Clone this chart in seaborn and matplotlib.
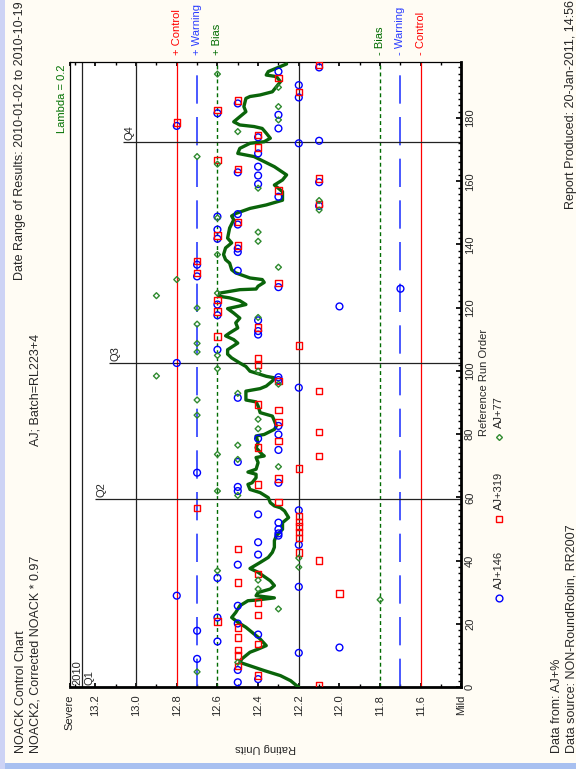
import numpy as np
import pandas as pd
import matplotlib.pyplot as plt
from matplotlib.lines import Line2D
from matplotlib.patches import Rectangle
from matplotlib.ticker import MultipleLocator
import seaborn as sns

# --- values (run order, rating units) ---
aj146_run = [1.5, 2.5, 5.4, 8.9, 10.8, 12.5, 14.4, 16.6, 17.8, 20.1, 22.0, 25.7, 28.9, 31.7,
             34.5, 38.7, 41.9, 45.0, 45.8, 47.9, 48.6, 49.9, 52.0, 54.6, 55.9, 62.0, 63.3,
             64.6, 67.8, 71.2, 75.0, 78.6, 79.9, 82.6, 91.5, 94.7, 97.1, 98.0, 102.5, 106.7,
             111.5, 112.6, 116.0, 117.6, 120.4, 121.0, 126.0, 126.5, 129.9, 131.7, 133.6,
             137.6, 138.7, 141.8, 144.7, 146.3, 148.8, 149.6, 152.2, 155.1, 159.1, 159.7,
             161.8, 162.8, 164.6, 168.8, 172.0, 172.8, 173.9, 176.7, 177.5, 181.0, 181.5,
             184.6, 186.5, 190.4, 194.7, 196.0]
aj146_val = [12.5, 12.4, 12.5, 12.7, 12.2, 12.0, 12.6, 12.4, 12.7, 12.5, 12.6, 12.5, 12.8, 12.2,
             12.6, 12.5, 12.4, 12.2, 12.4, 12.3, 12.3, 12.3, 12.3, 12.4, 12.2, 12.5, 12.5,
             12.3, 12.7, 12.5, 12.3, 12.4, 12.3, 12.3, 12.5, 12.2, 12.3, 12.3, 12.8, 12.6,
             12.4, 12.4, 12.4, 12.6, 12.0, 12.6, 11.7, 12.3, 12.7, 12.5, 12.7,
             12.5, 12.5, 12.6, 12.6, 12.5, 12.6, 12.5, 12.1, 12.3, 12.4, 12.1,
             12.4, 12.5, 12.4, 12.4, 12.2, 12.1, 12.4, 12.3, 12.8, 12.3, 12.6,
             12.5, 12.2, 12.2, 12.3, 12.1]

aj319_run = [0.7, 3.6, 6.7, 9.9, 11.7, 13.6, 15.7, 18.9, 20.8, 22.8, 26.8, 29.6, 33.1, 35.7,
             40.0, 42.6, 43.7, 47.1, 49.0, 50.7, 52.2, 54.1, 56.7, 58.5, 64.1, 65.9, 69.1,
             73.1, 75.7, 77.8, 80.7, 83.8, 87.6, 89.4, 93.6, 96.8, 102.0, 103.9, 108.0,
             110.9, 113.8, 118.8, 122.5, 127.8, 131.0, 134.7, 139.7, 142.9, 147.1, 152.8,
             157.0, 160.9, 163.8, 166.7, 170.7, 174.6, 178.5, 182.5, 185.5, 188.3, 192.6,
             196.8]
aj319_val = [12.1, 12.4, 12.5, 12.5, 12.5, 12.4, 12.5, 12.5, 12.6, 12.4, 12.4, 12.0, 12.5, 12.4,
             12.1, 12.2, 12.5, 12.2, 12.2, 12.2, 12.2, 12.2, 12.7, 12.3, 12.4, 12.3, 12.2,
             12.1, 12.4, 12.3, 12.1, 12.3, 12.3, 12.4, 12.1, 12.3, 12.4, 12.4, 12.2,
             12.6, 12.4, 12.6, 12.6, 12.3, 12.7, 12.7, 12.5, 12.6, 12.5, 12.1,
             12.3, 12.1, 12.5, 12.6, 12.4, 12.4, 12.8, 12.6, 12.5, 12.2, 12.3,
             12.1]

aj77_run = [4.8, 7.8, 24.7, 27.6, 31.0, 33.8, 36.8, 37.9, 40.8, 60.6, 62.0, 69.7, 72.0, 73.6,
            76.5, 81.7, 84.7, 86.0, 90.8, 92.9, 95.8, 98.4, 99.9, 100.7, 104.9, 106.0, 108.7,
            114.8, 116.9, 119.9, 123.8, 124.6, 128.9, 132.8, 136.8, 141.0, 143.9, 148.4,
            150.9, 153.9, 157.8, 165.4, 167.8, 175.7, 179.4, 183.6, 189.7, 193.9]
aj77_val = [12.7, 12.5, 12.3, 11.8, 12.4, 12.4, 12.6, 12.2, 12.2, 12.5, 12.6, 12.3, 12.5, 12.6,
            12.5, 12.4, 12.4, 12.7, 12.7, 12.5, 12.3, 12.9, 12.4, 12.6, 12.6, 12.7, 12.7,
            12.7, 12.4, 12.7, 12.9, 12.6, 12.8, 12.3, 12.6, 12.4, 12.4, 12.6,
            12.1, 12.1, 12.4, 12.6, 12.7, 12.5, 12.3, 12.3, 12.3, 12.6]

# EWMA trace (lambda = 0.2)
ewma_run = [0.0, 0.4, 2.0, 3.6, 5.2, 6.7, 7.8, 8.9, 11.0, 12.0, 13.1, 15.2, 17.3, 18.9, 20.5,
            22.0, 23.6, 25.7, 27.3, 27.5, 28.2, 28.9, 29.9, 31.0, 32.1, 33.6, 36.3, 37.5,
            39.4, 41.0, 42.6, 44.2, 46.3, 47.9, 49.9, 52.0, 53.6, 55.7, 56.7, 57.3, 58.3,
            59.9, 61.5, 62.5, 64.1, 64.6, 66.2, 67.3, 68.0, 68.9, 71.0, 72.6, 73.1, 73.6,
            75.7, 77.3, 79.4, 79.9, 81.5, 82.6, 84.2, 85.7, 86.8, 88.9, 90.2, 90.8, 92.1,
            93.6, 94.4, 95.2, 96.8, 97.8, 98.3, 99.9, 101.4, 102.5, 104.1, 105.3, 106.7,
            108.8, 109.9, 111.1, 112.0, 113.6, 115.2, 116.7, 118.3, 119.7, 120.4, 121.0,
            122.2, 123.1, 123.6, 124.6, 125.7, 125.9, 126.8, 128.0, 128.9, 129.4, 131.0,
            132.0, 134.1, 135.2, 136.8, 138.9, 140.5, 142.0, 145.2, 147.8, 149.0, 149.8,
            151.4, 152.5, 154.0, 156.7, 158.8, 160.4, 162.0, 164.6, 166.2, 167.8, 168.3,
            168.8, 170.4, 172.0, 172.5, 173.6, 175.2, 176.7, 177.3, 177.8, 178.8, 180.4,
            182.0, 183.6, 186.2, 186.8, 187.3, 188.3, 189.9, 191.5, 193.1, 193.6, 194.7,
            197.1]
ewma_val = [12.20, 12.21, 12.24, 12.29, 12.37, 12.44, 12.49, 12.48, 12.44, 12.40, 12.36, 12.39,
            12.43, 12.46, 12.50, 12.53, 12.51, 12.49, 12.45, 12.41, 12.32, 12.41, 12.40,
            12.34, 12.32, 12.34, 12.40, 12.44, 12.39, 12.35, 12.33, 12.32, 12.32, 12.31,
            12.28, 12.28, 12.25, 12.27, 12.29, 12.32, 12.34, 12.35, 12.39, 12.44, 12.45,
            12.43, 12.41, 12.41, 12.45, 12.41, 12.40, 12.41, 12.37, 12.38, 12.41, 12.40,
            12.41, 12.37, 12.32, 12.31, 12.32, 12.33, 12.39, 12.40, 12.41, 12.46, 12.46,
            12.46, 12.39, 12.36, 12.33, 12.32, 12.36, 12.44, 12.46, 12.49, 12.53, 12.55,
            12.55, 12.50, 12.52, 12.56, 12.54, 12.50, 12.51, 12.49, 12.52, 12.55, 12.50,
            12.46, 12.49, 12.54, 12.59, 12.59, 12.49, 12.41, 12.40, 12.37, 12.38, 12.44,
            12.51, 12.53, 12.54, 12.56, 12.57, 12.56, 12.53, 12.55, 12.54, 12.52, 12.53,
            12.51, 12.44, 12.36, 12.28, 12.28, 12.32, 12.28, 12.26, 12.32, 12.37, 12.42,
            12.46, 12.50, 12.49, 12.44, 12.37, 12.34, 12.36, 12.38, 12.42, 12.49, 12.52,
            12.49, 12.46, 12.47, 12.46, 12.44, 12.39, 12.33, 12.31, 12.29, 12.31, 12.36,
            12.35, 12.26]

limit_names = ['Control', 'Warning', 'Bias']
upper_limits = [12.8, 12.7, 12.6]
lower_limits = [11.6, 11.7, 11.8]
ref_lines = [13.0, 12.2]
quarter_names = ['Q2', 'Q3', 'Q4']
quarter_runs = [59.6, 102.5, 172.5]

rating_ticks = [13.325, 13.2, 13.0, 12.8, 12.6, 12.4, 12.2, 12.0, 11.8, 11.6, 11.40]
rating_labels = ['Severe', '13.2', '13.0', '12.8', '12.6', '12.4', '12.2', '12.0', '11.8',
                 '11.6', 'Mild']
run_ticks = [0, 20, 40, 60, 80, 100, 120, 140, 160, 180]

df = pd.concat([
    pd.DataFrame({'run': aj146_run, 'rating': aj146_val, 'oil': 'AJ+146'}),
    pd.DataFrame({'run': aj319_run, 'rating': aj319_val, 'oil': 'AJ+319'}),
    pd.DataFrame({'run': aj77_run, 'rating': aj77_val, 'oil': 'AJ+77'}),
])

sns.set_theme(style='white')
plt.rcParams['font.family'] = ['Liberation Sans', 'DejaVu Sans']
plt.rcParams['font.size'] = 8

bg = '#fffcf4'
fig = plt.figure(figsize=(5.76, 7.69), dpi=100, facecolor=bg)
ax = fig.add_axes([0.1215, 0.1066, 0.6797, 0.8127])
ax.set_facecolor('white')

# limit lines
red, blue, green = '#ff0000', '#2a3cff', '#006b00'
for v in [upper_limits[0], lower_limits[0]]:
    ax.axvline(v, color=red, lw=0.9, zorder=2)
for v in [upper_limits[1], lower_limits[1]]:
    ax.axvline(v, color=blue, lw=1.2, dashes=(17, 8), zorder=2)
for v in [upper_limits[2], lower_limits[2]]:
    ax.axvline(v, color=green, lw=1.0, dashes=(2.8, 2.2), zorder=2)
for v in ref_lines:
    ax.axvline(v, color='#222222', lw=0.9, zorder=2)
ax.axvline(13.266, color='#222222', lw=0.9, zorder=2)

# quarter markers
quarter_from = [13.20, 13.133, 13.064]
for q, name, start in zip(quarter_runs, quarter_names, quarter_from):
    ax.hlines(q, start, 11.40, color='#222222', lw=0.9, zorder=2)
    ax.text(start - 0.032, q + 0.6, name, rotation=90, rotation_mode='anchor',
            ha='left', va='center', fontsize=8)
ax.text(13.29, 0.6, '2010', rotation=90, rotation_mode='anchor', ha='left', va='center', fontsize=8)
ax.text(13.231, 0.6, 'Q1', rotation=90, rotation_mode='anchor', ha='left', va='center', fontsize=8)

# EWMA line
sns.lineplot(x=ewma_val, y=ewma_run, sort=False, estimator=None, color='#0a640a',
             lw=2.4, ax=ax, zorder=3)

styles = {'AJ+146': ('o', '#0000ff', 24), 'AJ+319': ('s', '#ff0000', 22),
          'AJ+77': ('D', '#2f8a2f', 9)}
for oil, (mk, col, size) in styles.items():
    d = df[df['oil'] == oil]
    sns.scatterplot(x=d['rating'], y=d['run'], marker=mk, s=size, color=col,
                    facecolor='none', edgecolor=col, linewidth=1.0, ax=ax,
                    zorder=4, legend=False)

ax.set_xlim(13.325, 11.40)
ax.set_ylim(0, 197.7)
ax.set_xlabel('')
ax.set_ylabel('')
ax.set_xticks(rating_ticks, rating_labels, rotation=90)
ax.xaxis.set_minor_locator(MultipleLocator(0.1))
ax.tick_params(axis='x', which='both', direction='in', bottom=True, top=True,
               labelsize=8, pad=5.5, color='black')
ax.tick_params(axis='x', which='major', length=3)
ax.tick_params(axis='x', which='minor', length=2)
ax.yaxis.tick_right()
ax.set_yticks(run_ticks)
ax.yaxis.set_minor_locator(MultipleLocator(2))
ax.tick_params(axis='y', which='both', direction='in', right=True, left=False,
               labelsize=8, pad=2.5, labelrotation=90, color='black')
ax.tick_params(axis='y', which='major', length=3.5)
ax.tick_params(axis='y', which='minor', length=2)
for lab in ax.get_yticklabels():
    lab.set_va('center')

for side, w in [('left', 0.9), ('top', 0.9), ('right', 2.0), ('bottom', 2.0)]:
    ax.spines[side].set_visible(True)
    ax.spines[side].set_color('black')
    ax.spines[side].set_linewidth(w)

# limit labels above the plot
for name, hi, lo, col in zip(limit_names, upper_limits, lower_limits, [red, blue, green]):
    ax.text(hi, 199.9, '+ ' + name, color=col, rotation=90, rotation_mode='anchor',
            ha='left', va='center', fontsize=8, clip_on=False)
    ax.text(lo, 199.9, '- ' + name, color=col, rotation=90, rotation_mode='anchor',
            ha='left', va='center', fontsize=8, clip_on=False)
ax.text(13.364, 196.8, 'Lambda = 0.2', color='#007000', rotation=90, rotation_mode='anchor',
        ha='right', va='center', fontsize=8, clip_on=False)

# page texts
def vtext(x, y, s, ha='left', **kw):
    fig.text(x / 576, 1 - y / 769, s, rotation=90, rotation_mode='anchor',
             ha=ha, va='center', fontsize=kw.pop('fontsize', 9), **kw)

vtext(21.5, 753, 'NOACK Control Chart')
vtext(36, 753, 'NOACK2, Corrected NOACK * 0.97')
vtext(20, 1, 'Date Range of Results: 2010-01-02 to 2010-10-19', ha='right')
vtext(36, 390, 'AJ; Batch=RL223+4', ha='center')
vtext(557, 753, 'Data from: AJ+%')
vtext(571, 753, 'Data source: NON-RoundRobin, RR2007')
vtext(571, 0, 'Report Produced: 20-Jan-2011, 14:56', ha='right')
vtext(484, 382, 'Reference Run Order', ha='center', fontsize=8)
fig.text(265.5 / 576, 1 - 748 / 769, 'Rating Units', rotation=180, ha='center', va='center',
         fontsize=8)

# legend
leg_items = [('AJ+146', 598), ('AJ+319', 519), ('AJ+77', 437)]
for oil, y in leg_items:
    mk, col, size = styles[oil]
    fig.add_artist(Line2D([499 / 576], [1 - y / 769], marker=mk, ls='none', mfc='none',
                          mec=col, mew=1.0, ms=np.sqrt(size), transform=fig.transFigure))
    vtext(499, y - 9, oil, fontsize=8)

# window frame
fig.add_artist(Rectangle((0, 0), 1, 6 / 769, transform=fig.transFigure,
                         color='#a8c0f0', lw=0))
fig.add_artist(Rectangle((0, 0), 5 / 576, 1, transform=fig.transFigure,
                         color='#cdd3f5', lw=0))

fig.savefig('out.png', dpi=100, facecolor=bg)
